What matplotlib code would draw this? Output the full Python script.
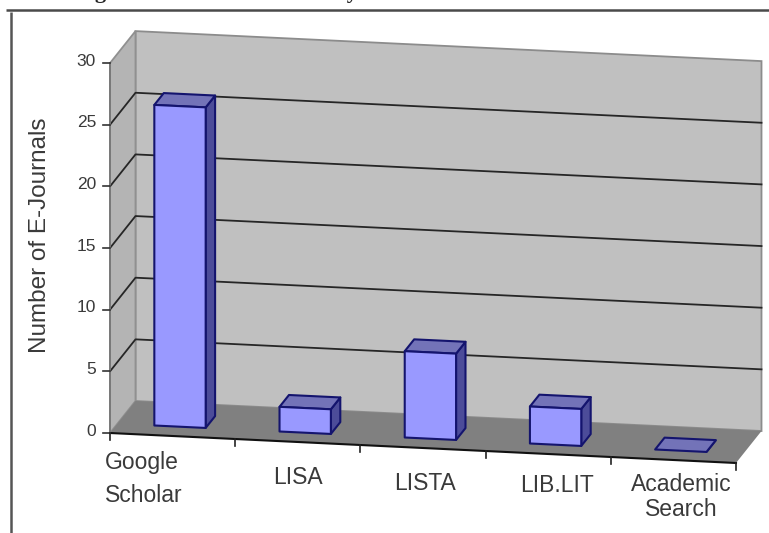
import matplotlib
matplotlib.use("Agg")
import matplotlib.pyplot as plt
from matplotlib.patches import Polygon

categories = ["Google\nScholar", "LISA", "LISTA", "LIB.LIT", "Academic\nSearch"]
values = [26, 2, 7, 3, 0]
y_ticks = [0, 5, 10, 15, 20, 25, 30]
y_label = "Number of E-Journals"
cropped_title = "Figure 1: Number of Titles by"

W, H = 769, 533
fig = plt.figure(figsize=(W / 100, H / 100), dpi=100, facecolor="white")
ax = fig.add_axes([0, 0, 1, 1])
ax.set_xlim(0, W)
ax.set_ylim(H, 0)
ax.axis("off")
plt.rcParams["font.family"] = ["Liberation Sans", "DejaVu Sans"]

# oblique projection: category c, value v, depth d -> pixel
ORIGIN = (110.0, 433.0)
CAT_DX, CAT_DY = 125.2, 6.0
VAL_DY = 12.33
DEPTH_DX, DEPTH_DY = 25.5, -32.0


def P(c, v=0.0, d=0.0):
    return (ORIGIN[0] + c * CAT_DX + d * DEPTH_DX,
            ORIGIN[1] + c * CAT_DY - v * VAL_DY + d * DEPTH_DY)


N = len(categories)
VMAX = y_ticks[-1]
WALL = "#c0c0c0"
SIDE = "#b4b4b4"
FLOOR = "#808080"
TEXT = "#3a3a3a"

ax.add_patch(Polygon([P(0, 0, 1), P(N, 0, 1), P(N, VMAX, 1), P(0, VMAX, 1)],
                     fc=WALL, ec="#8c8c8c", lw=1.3, zorder=1))
ax.add_patch(Polygon([P(0, 0, 0), P(0, 0, 1), P(0, VMAX, 1), P(0, VMAX, 0)],
                     fc=SIDE, ec="#909090", lw=1.3, zorder=1))
ax.add_patch(Polygon([P(0, 0, 0), P(N, 0, 0), P(N, 0, 1), P(0, 0, 1)],
                     fc=FLOOR, ec="none", zorder=2))

for v in y_ticks[1:-1]:
    xs, ys = zip(P(0, v, 0), P(0, v, 1), P(N, v, 1))
    ax.plot(xs, ys, color="#262626", lw=1.3, zorder=3)

# axes and ticks
xs, ys = zip(P(0, 0, 0), P(N, 0, 0))
ax.plot(xs, ys, color="#111111", lw=1.5, zorder=4)
xs, ys = zip(P(0, 0, 0), P(0, VMAX, 0))
ax.plot(xs, ys, color="#777777", lw=1.3, zorder=4)
for v in y_ticks:
    x, y = P(0, v, 0)
    ax.plot([x - 7, x], [y, y], color="#333333", lw=1.2, zorder=4)
    ax.text(x - 14, y - 2, str(v), ha="right", va="center", fontsize=12.5, color=TEXT)
for c in range(N + 1):
    x, y = P(c, 0, 0)
    ax.plot([x, x], [y, y + 7], color="#222222", lw=1.2, zorder=4)

# bars
EDGE = "#14146e"
BAR_W = 0.41
D0, D1 = 0.29, 0.66
for i, v in enumerate(values):
    a, b = i + (1 - BAR_W) / 2, i + (1 + BAR_W) / 2
    ax.add_patch(Polygon([P(b, 0, D0), P(b, 0, D1), P(b, v, D1), P(b, v, D0)],
                         fc="#4c4c99", ec=EDGE, lw=1.5, joinstyle="round", zorder=5))
    ax.add_patch(Polygon([P(a, v, D0), P(b, v, D0), P(b, v, D1), P(a, v, D1)],
                         fc="#7373b8", ec=EDGE, lw=1.5, joinstyle="round", zorder=6))
    if v > 0:
        ax.add_patch(Polygon([P(a, 0, D0), P(b, 0, D0), P(b, v, D0), P(a, v, D0)],
                             fc="#9999ff", ec=EDGE, lw=1.5, joinstyle="round", zorder=7))

# category labels: left/centre anchor, vertical centre and line spacing per label
label_place = [(105, 479, "left", 1.5), (298, 478, "center", 1.1), (425, 484, "center", 1.1),
               (557, 485, "center", 1.1), (681, 497, "center", 1.1)]
for name, (x, y, align, spacing) in zip(categories, label_place):
    ax.text(x, y, name, ha=align, va="center", multialignment="center" if align == "center" else "left",
            fontsize=16.5, color=TEXT, linespacing=spacing)

ax.text(40, 235, y_label, rotation=90, ha="center", va="center", fontsize=17.5, color=TEXT)

# surrounding frame of the scanned page
ax.plot([6, W], [10, 10], color="#4a4a4a", lw=1.8, zorder=8, solid_capstyle="butt")
ax.plot([11, 11], [12, H], color="#555555", lw=1.8, zorder=8, solid_capstyle="butt")

# title cropped by the top of the picture: only its descenders remain
ax.text(75, -2, cropped_title, ha="left", va="baseline",
        fontsize=16, fontweight="bold", family="Liberation Serif", color="#222222", clip_on=True)

fig.savefig("out.png", dpi=100)
